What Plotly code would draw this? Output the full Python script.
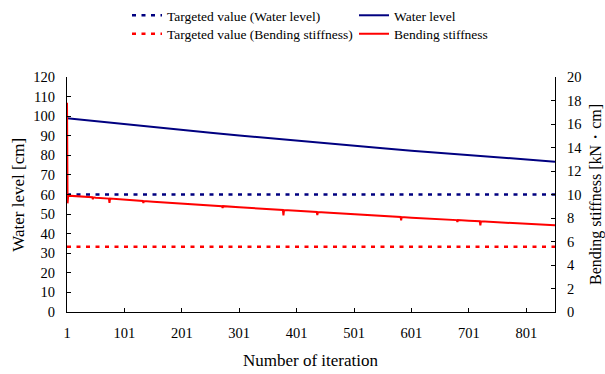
import plotly.graph_objects as go

# ---- data ----
water_iter = [1, 51, 101, 151, 201, 251, 301, 351, 401, 451, 501, 551, 601, 651, 701, 751, 801, 851]
water_level = [99.00, 97.45, 95.93, 94.44, 92.98, 91.55, 90.15, 88.78, 87.44, 86.13,
               84.85, 83.60, 82.38, 81.19, 80.03, 78.90, 77.80, 76.73]

bend_iter = [1, 2, 3, 45, 46, 47, 51, 74, 75, 76, 101, 133, 134, 135, 151, 201, 251,
             271, 272, 273, 301, 351, 377, 378, 379, 401, 436, 437, 438, 451, 501, 551,
             582, 583, 584, 601, 651, 680, 681, 682, 701, 720, 721, 722, 751, 801, 851]
bend_stiff = [17.8, 9.25, 9.90, 9.76, 9.60, 9.76, 9.73, 9.65, 9.28, 9.65, 9.56, 9.45, 9.28,
              9.45, 9.39, 9.23, 9.07, 9.01, 8.85, 9.01, 8.91, 8.76, 8.68, 8.22, 8.68, 8.61,
              8.51, 8.25, 8.51, 8.46, 8.32, 8.17, 8.09, 7.80, 8.09, 8.03, 7.90, 7.82, 7.66,
              7.82, 7.77, 7.72, 7.38, 7.72, 7.64, 7.51, 7.38]

target_iter = [1, 851]
target_water = [60, 60]
target_bend = [5.55, 5.55]

x_tickvals = [1, 101, 201, 301, 401, 501, 601, 701, 801]
y1_tickvals = list(range(0, 121, 10))
y2_tickvals = list(range(0, 21, 2))

NAVY = "#000080"
RED = "#FF0000"
FONT = "Times New Roman, Liberation Serif, DejaVu Serif, serif"

fig = go.Figure()
fig.add_trace(go.Scatter(x=target_iter, y=target_water, mode="lines",
                         name="Targeted value (Water level)", legend="legend",
                         line=dict(color=NAVY, width=2.5, dash="4px,5.5px")))
fig.add_trace(go.Scatter(x=water_iter, y=water_level, mode="lines", name="Water level",
                         legend="legend", line=dict(color=NAVY, width=2)))
fig.add_trace(go.Scatter(x=target_iter, y=target_bend, mode="lines", yaxis="y2",
                         name="Targeted value (Bending stiffness)", legend="legend2",
                         line=dict(color=RED, width=2.5, dash="4px,5.5px")))
fig.add_trace(go.Scatter(x=bend_iter, y=bend_stiff, mode="lines", yaxis="y2",
                         name="Bending stiffness", legend="legend2",
                         line=dict(color=RED, width=2)))

axis_common = dict(showline=True, linecolor="#000000", linewidth=1, ticks="inside",
                   ticklen=4, tickcolor="#000000", showgrid=False, zeroline=False,
                   tickfont=dict(family=FONT, size=14.5, color="#000000"))

legend_common = dict(orientation="h", xref="container", yref="container",
                     x=127 / 605, xanchor="left", yanchor="top",
                     entrywidth=182, entrywidthmode="pixels",
                     font=dict(family=FONT, size=13.5, color="#000000"),
                     bgcolor="rgba(0,0,0,0)", itemwidth=30)

fig.update_layout(
    width=605, height=374,
    margin=dict(l=67, r=50, t=77, b=62),
    paper_bgcolor="white", plot_bgcolor="white",
    font=dict(family=FONT, color="#000000"),
    showlegend=True,
    legend=dict(y=1 - 0 / 374, **legend_common),
    legend2=dict(y=1 - 18.5 / 374, **legend_common),
    xaxis=dict(range=[1, 851], tickmode="array", tickvals=x_tickvals,
               ticklabelstandoff=8, **axis_common),
    yaxis=dict(range=[0, 120], tickmode="array", tickvals=y1_tickvals,
               ticklabelstandoff=8, **axis_common),
    yaxis2=dict(range=[0, 20], tickmode="array", tickvals=y2_tickvals, overlaying="y",
                side="right", ticklabelstandoff=8, **axis_common),
    annotations=[
        dict(text="Number of iteration", xref="paper", yref="paper", x=0.5, y=-0.205,
             xanchor="center", yanchor="middle", showarrow=False,
             font=dict(family=FONT, size=17, color="#000000")),
        dict(text="Water level [cm]", xref="paper", yref="paper", x=-0.1, y=0.5,
             xanchor="center", yanchor="middle", showarrow=False, textangle=-90,
             font=dict(family=FONT, size=17, color="#000000")),
        dict(text="Bending stiffness [kN・cm]", xref="paper", yref="paper", x=1.083, y=0.5,
             xanchor="center", yanchor="middle", showarrow=False, textangle=-90,
             font=dict(family=FONT, size=16, color="#000000")),
    ],
)
fig.write_html("out.html")
